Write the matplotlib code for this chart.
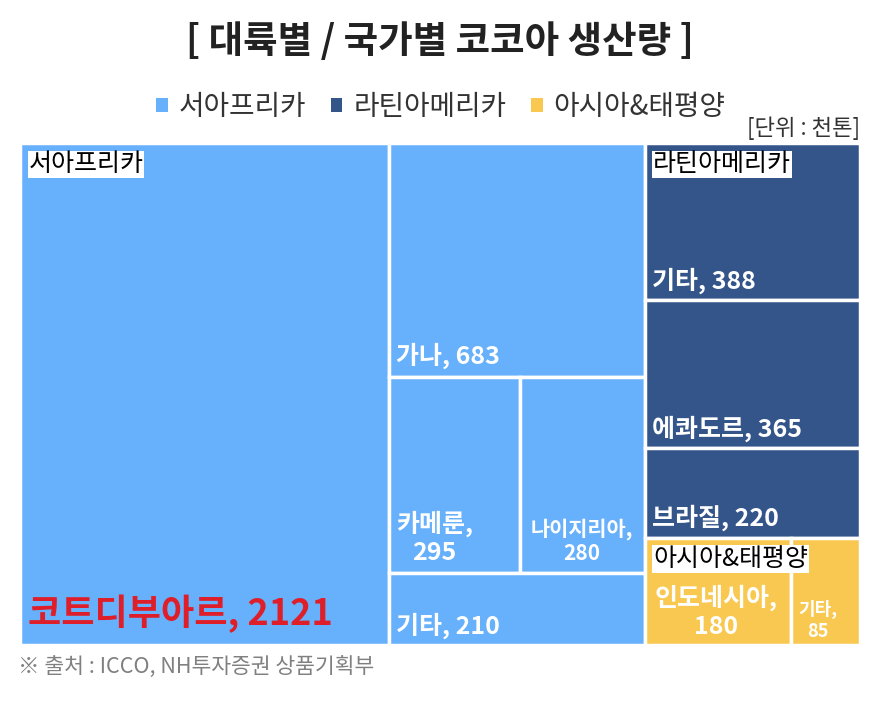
import matplotlib
matplotlib.use("Agg")
import matplotlib.pyplot as plt
from matplotlib.patches import Rectangle, Patch

plt.rcParams['font.family'] = ['Noto Sans CJK KR', 'DejaVu Sans']

# ---- data ----
groups = ["서아프리카", "라틴아메리카", "아시아&태평양"]
group_colors = ["#66B0FC", "#34558A", "#F9C850"]

west_names = ["코트디부아르", "가나", "카메룬", "나이지리아", "기타"]
west_values = [2121, 683, 295, 280, 210]
latam_names = ["기타", "에콰도르", "브라질"]
latam_values = [388, 365, 220]
asia_names = ["인도네시아", "기타"]
asia_values = [180, 85]

title = "[ 대륙별 / 국가별 코코아 생산량 ]"
unit_text = "[단위 : 천톤]"
source_text = "※ 출처 : ICCO, NH투자증권 상품기획부"


def split_h(rect, values):
    """split rect left-to-right in proportion to values"""
    x, y, w, h = rect
    tot = float(sum(values))
    out = []
    for v in values:
        ww = w * v / tot
        out.append((x, y, ww, h))
        x += ww
    return out


def split_v(rect, values):
    """split rect top-to-bottom in proportion to values"""
    x, y, w, h = rect
    tot = float(sum(values))
    out = []
    top = y + h
    for v in values:
        hh = h * v / tot
        out.append((x, top - hh, w, hh))
        top -= hh
    return out


W, H = 840.0, 502.0
west_total = sum(west_values)
latam_total = sum(latam_values)
asia_total = sum(asia_values)

west_rect, right_rect = split_h((0, 0, W, H), [west_total, latam_total + asia_total])
civ_rect, west_rest = split_h(west_rect, [west_values[0], sum(west_values[1:])])
gh_rect, mid_rect, wo_rect = split_v(west_rest, [west_values[1], west_values[2] + west_values[3], west_values[4]])
cm_rect, ng_rect = split_h(mid_rect, [west_values[2], west_values[3]])
latam_rect, asia_rect = split_v(right_rect, [latam_total, asia_total])
latam_rects = split_v(latam_rect, latam_values)
asia_rects = split_h(asia_rect, asia_values)

fig = plt.figure(figsize=(8.75, 7.02), dpi=100)
ax = fig.add_axes([20 / 875, 57 / 702, 840 / 875, 502 / 702])
ax.set_xlim(0, W)
ax.set_ylim(0, H)
ax.axis('off')

west_rects = [civ_rect, gh_rect, cm_rect, ng_rect, wo_rect]
for r in west_rects:
    ax.add_patch(Rectangle((r[0], r[1]), r[2], r[3], facecolor=group_colors[0], edgecolor='white', lw=2.5))
for r in latam_rects:
    ax.add_patch(Rectangle((r[0], r[1]), r[2], r[3], facecolor=group_colors[1], edgecolor='white', lw=2.5))
for r in asia_rects:
    ax.add_patch(Rectangle((r[0], r[1]), r[2], r[3], facecolor=group_colors[2], edgecolor='white', lw=2.5))


def label(rect, text, dx=7, dy=9, size=18, color='white', weight='bold', ma='left'):
    ax.annotate(text, xy=(rect[0], rect[1]), xytext=(dx * 0.72, dy * 0.72), textcoords='offset points',
                ha='left', va='baseline', fontsize=size, color=color, fontweight=weight,
                multialignment=ma)


# West Africa labels
label(civ_rect, f"{west_names[0]}, {west_values[0]}", dx=8, dy=20, size=26, color='#DE1F2A', weight='bold')
label(gh_rect, f"{west_names[1]}, {west_values[1]}", dy=13)
label(cm_rect, f"{west_names[2]},\n{west_values[2]}", dy=13, ma='center')
label(ng_rect, f"{west_names[3]},\n{west_values[3]}", dx=10, dy=13, size=15, ma='center')
label(wo_rect, f"{west_names[4]}, {west_values[4]}", dy=11)

# Latin America labels
for r, n, v in zip(latam_rects, latam_names, latam_values):
    label(r, f"{n}, {v}", dy=12)

# Asia labels
label(asia_rects[0], f"{asia_names[0]},\n{asia_values[0]}", dx=10, dy=11, ma='center')
label(asia_rects[1], f"{asia_names[1]},\n{asia_values[1]}", dx=7, dy=8, size=13, ma='center')

# group labels (top-left, white boxes)
for r, g in zip([west_rect, latam_rect, asia_rect], groups):
    ax.annotate(g, xy=(r[0], r[1] + r[3]), xytext=(6, -6), textcoords='offset points',
                ha='left', va='top', fontsize=18, color='black',
                bbox=dict(boxstyle='square,pad=0.03', facecolor='white', edgecolor='none'))

# title, legend, unit, source
fig.text(440 / 875, 1 - 42 / 702, title, ha='center', va='center', fontsize=27, fontweight='bold', color='#222222')

handles = [Patch(facecolor=c, edgecolor='none') for c in group_colors]
fig.legend(handles, groups, loc='center', bbox_to_anchor=(441 / 875, 1 - 107 / 702), ncol=3, frameon=False,
           handlelength=0.4, handleheight=0.4, handletextpad=0.4, columnspacing=0.9, fontsize=20,
           labelcolor='#333333')

fig.text(860 / 875, 1 - 128 / 702, unit_text, ha='right', va='center', fontsize=16, color='#333333')
fig.text(18 / 875, 1 - 668 / 702, source_text, ha='left', va='center', fontsize=15.5, color='#808080')

fig.savefig("out.png", dpi=100)
